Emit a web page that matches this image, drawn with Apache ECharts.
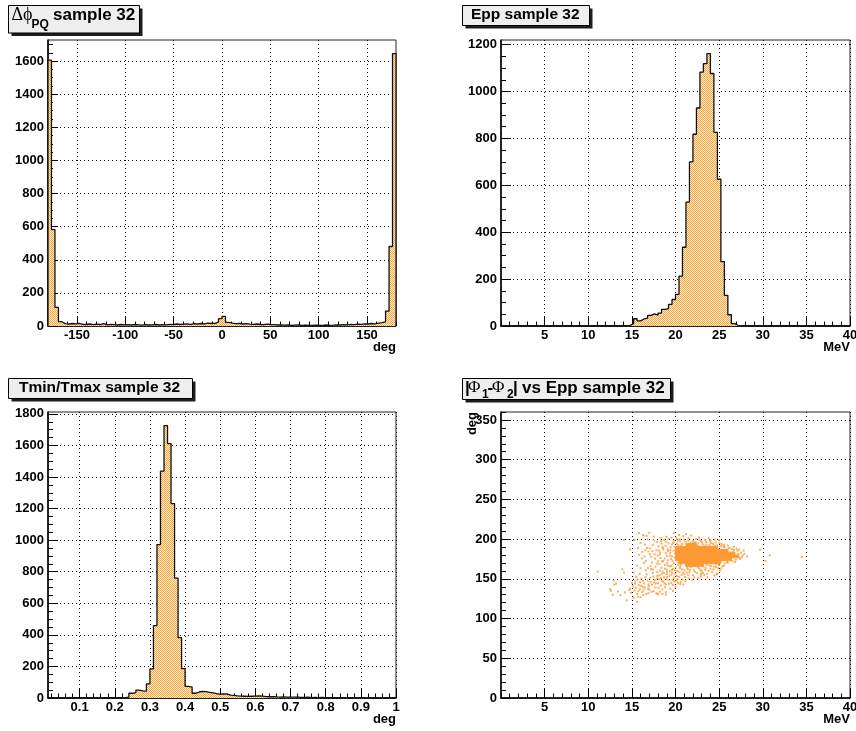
<!DOCTYPE html>
<html>
<head>
<meta charset="utf-8">
<script src="https://cdn.jsdelivr.net/npm/echarts@6/dist/echarts.min.js"></script>
<style>
  html, body { margin: 0; padding: 0; background: #fff; }
  #chart { width: 856px; height: 731px; }
</style>
</head>
<body>
<div id="chart"></div>
<script>
// ---------------------------------------------------------------------------
// Δφ_PQ histogram: 100 bins of 3.6° starting at -180°
const phiBinStart = -180;
const phiBinWidth = 3.6;
const phiCounts = [
  1605, 582, 112, 26, 14, 12, 15, 13, 16, 10,
  9, 12, 8, 11, 9, 14, 7, 10, 8, 6,
  9, 7, 8, 6, 9, 7, 5, 8, 6, 7,
  9, 6, 8, 7, 10, 8, 12, 9, 11, 13,
  10, 14, 12, 15, 13, 17, 15, 16, 24, 44,
  58, 22, 17, 14, 16, 12, 14, 11, 10, 12,
  9, 8, 11, 9, 8, 6, 7, 5, 6, 4,
  5, 6, 4, 5, 3, 4, 5, 3, 4, 6,
  4, 5, 7, 6, 8, 7, 9, 8, 11, 10,
  13, 12, 15, 13, 17, 20, 25, 90, 480, 1645
];
const phiXTicks = [-150, -100, -50, 0, 50, 100, 150];
const phiYTicks = [0, 200, 400, 600, 800, 1000, 1200, 1400, 1600];

// Epp histogram: 100 bins of 0.4 MeV starting at 0
const eppBinStart = 0;
const eppBinWidth = 0.4;
const eppCounts = [
  0, 0, 0, 0, 0, 0, 0, 0, 0, 0,
  0, 0, 0, 0, 0, 0, 0, 0, 0, 0,
  0, 0, 0, 0, 0, 0, 0, 0, 0, 0,
  0, 0, 0, 0, 0, 1, 3, 10, 31, 22,
  30, 34, 45, 52, 46, 55, 71, 74, 92, 113,
  135, 213, 336, 528, 700, 818, 930, 1083, 1119, 1162,
  1077, 826, 626, 275, 131, 48, 10, 2, 0, 0,
  0, 0, 0, 0, 0, 0, 0, 0, 0, 0,
  0, 0, 0, 0, 0, 0, 0, 0, 0, 0,
  0, 0, 0, 0, 0, 0, 0, 0, 0, 0
];
const mevTicks = [5, 10, 15, 20, 25, 30, 35, 40];
const eppYTicks = [0, 200, 400, 600, 800, 1000, 1200];

// Tmin/Tmax histogram: 99 bins of 0.01 starting at 0.01
const ratioBinStart = 0.01;
const ratioBinWidth = 0.01;
const ratioCounts = [
  0, 0, 0, 0, 0, 0, 0, 0, 0, 0,
  0, 0, 0, 0, 0, 0, 0, 0, 0, 0,
  0, 2, 6, 30, 34, 50, 45, 44, 90, 184,
  458, 972, 1437, 1726, 1612, 1232, 760, 382, 186, 74,
  69, 30, 38, 42, 40, 36, 32, 27, 24, 26,
  24, 18, 16, 13, 12, 11, 10, 11, 12, 14,
  12, 9, 8, 9, 7, 6, 7, 6, 5, 6,
  5, 4, 4, 5, 3, 4, 3, 4, 3, 3,
  2, 3, 2, 2, 1, 2, 1, 2, 1, 1,
  1, 0, 1, 0, 1, 0, 0, 0, 0
];
const ratioXTicks = [0.1, 0.2, 0.3, 0.4, 0.5, 0.6, 0.7, 0.8, 0.9, 1];
const ratioYTicks = [0, 200, 400, 600, 800, 1000, 1200, 1400, 1600, 1800];

// |Φ1-Φ2| vs Epp: individual events [MeV, deg]
const scatterPoints = [
  // above the dense core
  [20.3,192.5],[20.8,194.1],[21.3,193.2],[21.7,195.6],[22.2,192.9],[22.6,194.8],[23.1,193.5],[23.5,196.2],
  [23.9,192.4],[24.3,194.0],[24.8,192.1],[25.2,191.0],[25.6,190.2],[26.1,188.4],[26.5,187.5],[20.5,197.3],
  [21.0,199.2],[21.5,201.5],[22.0,198.0],[22.4,200.4],[22.9,197.5],[23.4,199.0],[24.0,197.8],[24.6,195.7],
  [25.3,193.6],[20.1,201.0],[20.9,203.6],[21.8,204.5],[22.7,202.2],[23.8,201.3],[25.0,198.5],[26.0,192.0],
  [26.7,190.5],[21.2,206.3],[20.4,205.0],[19.8,207.5],[22.3,196.1],[24.5,199.6],[23.3,191.6],[21.9,190.9],
  [20.15,194.6],[20.65,191.8],[21.15,196.4],[21.65,193.0],[22.05,195.3],[22.55,191.7],[23.05,195.9],[23.55,193.1],
  [24.05,195.0],[24.55,191.8],[25.05,194.8],[25.55,192.4],[20.45,199.8],[21.45,197.9],[22.75,199.2],[23.95,198.6],
  // 16-20 MeV, upper band
  [17.1,188.2],[17.4,192.5],[17.6,181.0],[17.9,196.3],[18.1,185.7],[18.3,176.2],[18.5,190.4],[18.7,199.0],
  [18.9,182.3],[19.1,173.5],[19.2,194.7],[19.4,186.1],[19.6,178.4],[19.8,169.8],[19.9,190.0],[17.3,170.5],
  [17.7,165.2],[18.0,172.1],[18.4,163.9],[18.8,167.6],[19.0,161.5],[19.3,165.8],[19.7,162.4],[19.5,175.0],
  [18.2,180.6],[18.6,186.9],[19.0,178.9],[19.4,182.7],[19.8,185.3],[19.6,193.2],[18.9,196.8],[18.3,201.4],
  [17.5,203.2],[16.8,199.5],[16.5,193.0],[16.9,184.4],[17.2,177.8],[16.6,172.6],[16.2,183.9],[16.0,195.4],
  [15.7,188.6],[16.3,204.7],[17.0,208.0],[19.2,200.5],[19.8,197.9],[18.6,172.4],[19.1,187.3],[17.8,186.0],
  [18.4,194.4],[19.9,176.8],[19.6,157.9],[19.0,156.0],[18.5,159.1],[17.9,158.5],[17.4,161.7],
  [18.15,168.3],[18.45,171.9],[18.75,175.6],[19.05,170.2],[19.35,179.1],[19.65,172.7],[19.95,181.6],[18.25,183.2],
  [18.55,188.8],[18.85,191.6],[19.15,184.9],[19.45,189.7],[19.75,195.2],[20.25,198.6],[18.05,191.1],[18.35,197.6],
  [18.95,203.1],[19.55,201.8],[17.65,175.4],[17.95,179.3],[17.35,184.7],[17.05,180.9],[16.75,188.9],[16.45,178.2],
  [17.85,169.1],[17.15,166.0],[16.85,163.6],[16.15,175.7],[15.85,180.1],[16.55,186.2],
  // 15-18 MeV, lower band
  [15.1,140.5],[15.3,135.2],[15.4,146.8],[15.6,131.0],[15.8,141.9],[15.9,137.0],[16.1,150.3],[16.2,133.6],
  [16.4,144.2],[16.5,139.1],[16.7,155.6],[16.8,147.9],[17.0,136.5],[17.1,151.2],[17.3,142.7],[17.4,157.4],
  [17.6,148.5],[17.7,139.3],[17.9,153.8],[18.0,144.6],[15.5,152.5],[15.2,158.0],[15.0,145.0],[14.8,137.9],
  [14.9,132.5],[15.7,127.6],[16.0,126.9],[16.3,129.8],[16.9,132.0],[17.5,134.4],[17.2,162.3],[16.6,160.8],
  [16.0,163.5],[15.6,166.7],[16.4,169.9],[15.9,156.4],[16.3,147.5],[16.9,143.2],[17.8,131.6],[18.2,133.9],
  [15.35,143.9],[15.65,149.1],[15.95,145.6],[16.25,139.8],[16.55,152.0],[16.85,137.4],[17.15,146.1],[17.45,152.9],
  [17.75,144.0],[18.05,138.6],[15.45,138.7],[15.75,134.5],[16.05,141.3],[16.35,136.2],[16.65,130.9],[16.95,140.8],
  [17.25,133.7],[17.55,145.3],[17.85,150.6],
  // 18-21 MeV, lower band
  [18.1,149.7],[18.3,141.6],[18.4,155.8],[18.6,146.3],[18.7,152.1],[18.9,143.0],[19.0,158.7],[19.2,148.6],
  [19.3,153.4],[19.5,145.1],[19.6,161.2],[19.8,150.9],[19.9,156.3],[20.1,147.4],[20.2,159.9],[20.4,152.7],
  [20.5,163.5],[20.7,155.0],[20.8,149.2],[21.0,160.6],[18.5,136.8],[18.8,139.5],[19.4,137.7],[19.7,142.4],
  [20.0,140.1],[20.3,144.5],[20.6,146.0],[20.9,142.9],[21.1,152.3],[21.3,157.8],[18.2,160.4],[18.8,162.7],
  [19.5,166.3],[20.3,167.1],[19.1,166.9],[20.0,164.4],[20.6,168.1],[18.0,130.8],[18.9,133.2],[19.7,134.9],
  [18.35,151.0],[18.65,157.3],[18.95,149.9],[19.25,143.8],[19.55,155.2],[19.85,146.7],[20.15,153.6],[20.45,158.4],
  [20.75,162.0],[21.05,155.9],[18.15,154.3],[18.45,147.8],[18.75,144.2],[19.05,152.4],[19.35,159.6],[19.65,148.2],
  [19.95,160.8],[20.25,149.4],[20.55,143.3],[20.85,157.6],[21.15,147.0],
  // below the dense core
  [21.4,162.4],[21.6,158.3],[21.8,165.0],[22.0,154.7],[22.1,160.9],[22.3,166.4],[22.5,157.1],[22.7,163.2],
  [22.9,152.6],[23.0,159.8],[23.2,165.7],[23.4,161.4],[23.6,156.2],[23.8,167.0],[24.0,162.8],[24.2,158.9],
  [24.4,165.3],[24.6,168.2],[24.9,163.6],[25.1,160.7],[21.5,150.6],[21.9,148.9],[22.6,151.2],[23.3,154.5],
  [24.7,155.7],[25.4,166.0],[25.7,169.4],[21.2,166.8],[22.8,168.6],[24.1,169.5],
  [21.35,164.3],[21.65,161.0],[21.95,167.2],[22.25,158.5],[22.55,164.8],[22.85,161.3],[23.15,157.4],[23.45,163.9],
  [23.75,160.1],[24.05,166.0],[24.35,162.0],[24.65,164.9],[24.95,167.4],[25.25,163.3],[25.55,166.6],[21.45,154.6],
  [22.15,151.8],[22.95,156.6],[23.65,151.9],[24.45,154.1],[20.35,170.2],[20.55,165.9],[21.85,169.0],[23.55,168.0],
  [25.05,169.9],
  // right edge of the core
  [26.0,170.3],[26.5,172.6],[26.9,174.1],[27.1,185.5],[27.3,177.2],[27.5,183.0],[27.7,179.6],[27.9,181.4],
  [28.2,178.3],[27.4,175.0],[26.7,186.4],[26.2,189.2],[25.9,171.8],[27.0,188.1],[27.8,185.7],
  [26.3,176.2],[26.6,183.4],[26.9,178.1],[27.2,181.2],[26.4,180.5],[27.6,177.1],[26.8,171.2],[27.3,186.8],
  // isolated events
  [11.1,159.0],[12.5,137.0],[12.8,130.0],[12.9,147.7],[13.0,142.7],[13.2,144.0],[13.4,134.0],[13.7,129.5],
  [13.9,162.0],[14.1,158.0],[14.1,199.0],[14.2,133.0],[14.7,136.0],[14.8,187.0],[15.2,126.0],[15.3,199.0],
  [15.8,207.7],[16.3,204.8],[16.7,204.0],[17.5,199.0],[18.5,131.0],[17.9,131.5],[18.9,130.0],[22.9,155.0],
  [24.8,156.0],[25.5,191.0],[29.7,186.7],[30.3,172.5],[30.8,179.6],[34.5,177.5],[12.6,135.0],[14.4,123.0],
  [15.6,121.0]
];
// saturated region: [lower deg edge, from MeV, to MeV], rows 3.6° tall
const denseRowHeight = 3.6;
const denseRows = [
  [165.6, 21.2, 23.2],
  [169.2, 20.4, 25.2],
  [172.8, 20.0, 26.4],
  [176.4, 20.0, 27.2],
  [180.0, 20.0, 26.8],
  [183.6, 20.0, 26.0],
  [187.2, 20.0, 24.8],
  [190.8, 21.2, 22.4]
];
const dphiTicks = [0, 50, 100, 150, 200, 250, 300, 350];

// ---------------------------------------------------------------------------
const INK = '#000';
const SANS = '"Liberation Sans", Arial, Helvetica, sans-serif';
const SERIF = '"Liberation Serif", "DejaVu Serif", serif';
const DOT = '#ff9933';

// dithered hatch used as histogram fill
function fillPattern() {
  const c = document.createElement('canvas');
  c.width = 2; c.height = 2;
  const g = c.getContext('2d');
  g.fillStyle = '#fff0d6';
  g.fillRect(0, 0, 2, 2);
  g.fillStyle = '#f8a63c';
  g.fillRect(0, 0, 1, 1);
  g.fillRect(1, 1, 1, 1);
  return c;
}
const PATTERN = { image: fillPattern(), repeat: 'repeat' };

function stepData(start, width, counts) {
  const pts = [[start, 0]];
  counts.forEach((c, i) => pts.push([start + i * width, c]));
  const end = start + counts.length * width;
  pts.push([end, counts[counts.length - 1]]);
  pts.push([end, 0]);
  return pts;
}

function stepsBetween(min, max, step) {
  const out = [];
  for (let k = Math.ceil(min / step - 1e-9); k * step <= max + 1e-9; k++) {
    out.push(+(k * step).toFixed(6));
  }
  return out;
}

function axisPair(dim, gridIndex, range, majors, minorStep, lens, extra) {
  const pos = dim === 'x' ? 'bottom' : 'left';
  const major = Object.assign({
    type: 'value', gridIndex, min: range[0], max: range[1], position: pos,
    axisLine: { show: true, onZero: false, lineStyle: { color: INK, width: 1.5 } },
    axisTick: { show: true, inside: true, length: lens[0], customValues: majors,
                lineStyle: { color: INK, width: 1 } },
    axisLabel: { show: true, customValues: majors, color: INK, fontFamily: SANS,
                 fontWeight: 'bold', fontSize: 13, margin: dim === 'x' ? 3 : 4,
                 formatter: v => String(v) },
    splitLine: { show: true, lineStyle: { color: INK, width: 1, type: [1, 3] } },
    nameMoveOverlap: false
  }, extra || {});
  const minor = {
    type: 'value', gridIndex, min: range[0], max: range[1], position: pos,
    axisLine: { show: false, onZero: false }, axisLabel: { show: false }, splitLine: { show: false },
    axisTick: { show: true, inside: true, length: lens[1],
                customValues: stepsBetween(range[0], range[1], minorStep),
                lineStyle: { color: INK, width: 1 } }
  };
  return [major, minor];
}

function xName(text) {
  return {
    name: text, nameLocation: 'end', nameGap: 0,
    nameTextStyle: { color: INK, fontFamily: SANS, fontWeight: 'bold', fontSize: 13,
                     align: 'right', verticalAlign: 'top', padding: [15, 0, 0, 0] }
  };
}

const grids = [
  { left: 48, top: 40, width: 348, height: 286 },
  { left: 501, top: 40, width: 349, height: 286 },
  { left: 48, top: 412, width: 348, height: 286 },
  { left: 501, top: 412, width: 349, height: 286 }
].map(g => Object.assign(g, {
  show: true, borderColor: '#222', borderWidth: 1, backgroundColor: 'transparent',
  containLabel: false, outerBoundsMode: 'none'
}));

const xAxes = [
  ...axisPair('x', 0, [-180, 180], phiXTicks, 10, [9, 4.5], xName('deg')),
  ...axisPair('x', 1, [0, 40], mevTicks, 1, [9, 4.5], xName('MeV')),
  ...axisPair('x', 2, [0.01, 1], ratioXTicks, 0.02, [9, 4.5], xName('deg')),
  ...axisPair('x', 3, [0, 40], mevTicks, 1, [9, 4.5], xName('MeV'))
];
const yAxes = [
  ...axisPair('y', 0, [0, 1727], phiYTicks, 50, [10, 5]),
  ...axisPair('y', 1, [0, 1220], eppYTicks, 50, [10, 5]),
  ...axisPair('y', 2, [0, 1812], ratioYTicks, 50, [10, 5]),
  ...axisPair('y', 3, [0, 360], dphiTicks, 10, [10, 5], {
    name: 'deg', nameLocation: 'end', nameGap: 0, nameRotate: 90,
    nameTextStyle: { color: INK, fontFamily: SANS, fontWeight: 'bold', fontSize: 13,
                     align: 'right', verticalAlign: 'bottom', padding: [0, 0, 22, 0] }
  })
];

function histSeries(panel, start, width, counts) {
  return {
    type: 'line', xAxisIndex: panel * 2, yAxisIndex: panel * 2,
    data: stepData(start, width, counts), step: 'end',
    showSymbol: false, symbol: 'none', silent: true, animation: false,
    lineStyle: { color: '#111', width: 1.3 },
    areaStyle: { color: PATTERN, opacity: 1 }
  };
}

const series = [
  histSeries(0, phiBinStart, phiBinWidth, phiCounts),
  histSeries(1, eppBinStart, eppBinWidth, eppCounts),
  histSeries(2, ratioBinStart, ratioBinWidth, ratioCounts),
  {
    type: 'custom', xAxisIndex: 6, yAxisIndex: 6, data: denseRows,
    encode: { x: [1, 2], y: 0 }, silent: true, animation: false,
    renderItem: (params, api) => {
      const yLow = api.value(0), xFrom = api.value(1), xTo = api.value(2);
      const a = api.coord([xFrom, yLow + denseRowHeight]);
      const b = api.coord([xTo, yLow]);
      return { type: 'rect', shape: { x: a[0], y: a[1], width: b[0] - a[0], height: b[1] - a[1] },
               style: { fill: DOT, stroke: DOT, lineWidth: 1 } };
    }
  },
  {
    type: 'scatter', xAxisIndex: 6, yAxisIndex: 6, data: scatterPoints,
    symbol: 'rect', symbolSize: 2, silent: true, animation: false,
    itemStyle: { color: DOT }
  }
];

// ---------------------------------------------------------------------------
// title panes with drop shadow
function titleBox(box, pieces) {
  const [x, y, w, h] = box;
  const els = [
    { type: 'rect', z: 10, shape: { x: x + 3, y: y + 3, width: w, height: h }, style: { fill: '#1e1e1e' } },
    { type: 'rect', z: 11, shape: { x, y, width: w, height: h },
      style: { fill: '#eeeeee', stroke: '#000', lineWidth: 1 } }
  ];
  pieces.forEach(p => els.push({
    type: 'text', z: 12, x: p[1], y: p[2],
    style: { text: p[0], font: p[3], fill: '#000', align: 'left', verticalAlign: 'middle' }
  }));
  return els;
}
const bold = s => 'bold ' + s + 'px ' + SANS;
const serif = s => s + 'px ' + SERIF;

const graphics = [
  ...titleBox([8.5, 5.5, 131, 27.5], [
    ['Δϕ', 11.5, 15, serif(18)],
    ['PQ', 31.5, 25, bold(12)],
    ['sample 32', 53, 15, bold(17)]
  ]),
  ...titleBox([462.5, 5.5, 127, 20], [
    ['Epp sample 32', 471, 15, bold(15.5)]
  ]),
  ...titleBox([8.5, 378.5, 184, 20], [
    ['Tmin/Tmax sample 32', 19, 388, bold(15.5)]
  ]),
  ...titleBox([462.5, 378.5, 208, 21], [
    ['|', 465, 388, bold(17)],
    ['Φ', 468, 388, serif(17)],
    ['1', 482, 395, bold(12)],
    ['-', 487.5, 388, bold(17)],
    ['Φ', 492, 388, serif(17)],
    ['2', 507, 395, bold(12)],
    ['|', 513, 388, bold(17)],
    ['vs Epp sample 32', 522, 388, bold(17)]
  ])
];

const chart = echarts.init(document.getElementById('chart'), null, { renderer: 'canvas' });
chart.setOption({
  backgroundColor: '#fff',
  animation: false,
  grid: grids,
  xAxis: xAxes,
  yAxis: yAxes,
  series,
  graphic: graphics
});
</script>
</body>
</html>
